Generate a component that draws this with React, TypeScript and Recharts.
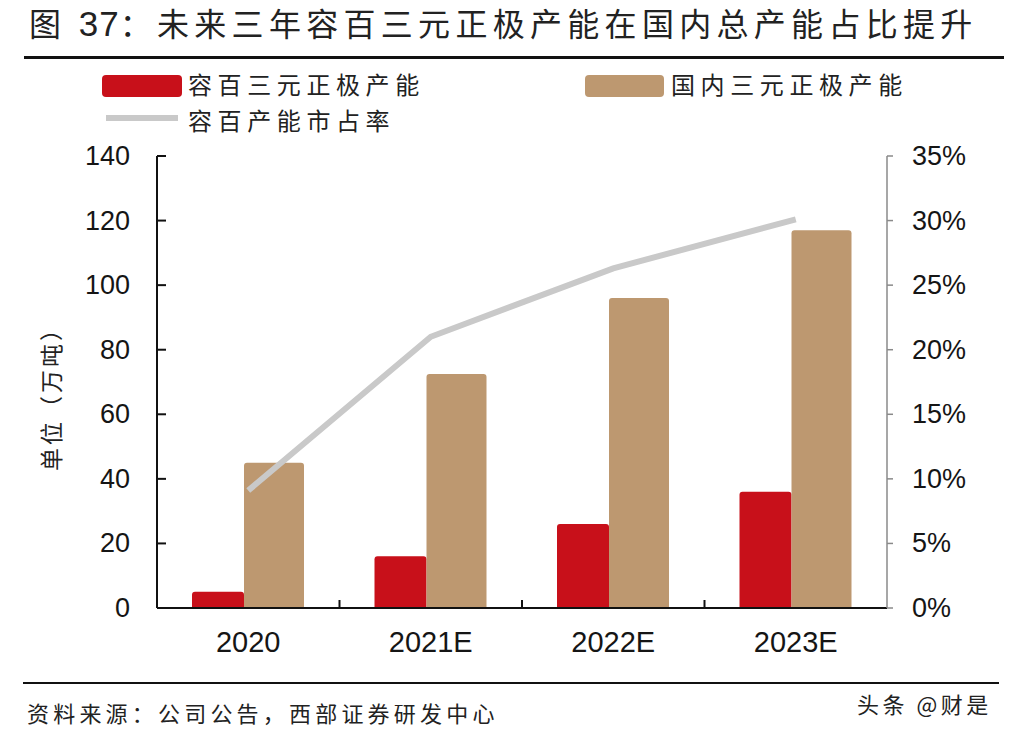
import React from "react";
import {
  ComposedChart,
  Bar,
  Line,
  XAxis,
  YAxis,
} from "recharts";

const categories = ["2020", "2021E", "2022E", "2023E"];
const rongbaiCapacity = [5, 16, 26, 36];
const domesticCapacity = [45, 72.5, 96, 117];
const marketShare = [0.091, 0.21, 0.263, 0.301];
const leftTicks = [0, 20, 40, 60, 80, 100, 120, 140];
const rightTicks = [0, 0.05, 0.1, 0.15, 0.2, 0.25, 0.3, 0.35];

const seriesNames = {
  rongbai: "容百三元正极产能",
  domestic: "国内三元正极产能",
  share: "容百产能市占率",
};

const data = categories.map((c, i) => ({
  category: c,
  rongbai: rongbaiCapacity[i],
  domestic: domesticCapacity[i],
  share: marketShare[i],
}));

const W = 1012;
const H = 738;
const PLOT_LEFT = 157;
const PLOT_RIGHT = 887;
const PLOT_TOP = 156;
const PLOT_BOTTOM = 608;
const LEFT_AXIS_W = 100;
const RIGHT_AXIS_W = 100;
const X_AXIS_H = 60;
const BAND = (PLOT_RIGHT - PLOT_LEFT) / categories.length;

const RED = "#C8101A";
const TAN = "#BD9870";
const GRAY = "#C9C9C9";
const CJK = '"Noto Sans CJK SC", "Noto Sans", sans-serif';
const LATIN = '"Liberation Sans", Arial, sans-serif';

const LeftTick = (props: any) => {
  const { y, payload } = props;
  return (
    <g>
      <line x1={PLOT_LEFT} x2={PLOT_LEFT + 9} y1={y} y2={y} stroke="#111" strokeWidth={2} />
      <text
        x={130}
        y={y}
        textAnchor="end"
        dominantBaseline="central"
        fontFamily={LATIN}
        fontSize={27}
        fill="#151515"
      >
        {payload.value}
      </text>
    </g>
  );
};

const RightTick = (props: any) => {
  const { y, payload } = props;
  return (
    <g>
      <line x1={PLOT_RIGHT} x2={PLOT_RIGHT + 6} y1={y} y2={y} stroke="#8a8a8a" strokeWidth={1.5} />
      <text
        x={912}
        y={y}
        textAnchor="start"
        dominantBaseline="central"
        fontFamily={LATIN}
        fontSize={27}
        fill="#151515"
      >
        {`${Math.round(payload.value * 100)}%`}
      </text>
    </g>
  );
};

const BottomTick = (props: any) => {
  const { x, payload, index } = props;
  const showBoundary = index < categories.length - 1;
  return (
    <g>
      {showBoundary && (
        <line
          x1={x + BAND / 2}
          x2={x + BAND / 2}
          y1={PLOT_BOTTOM}
          y2={PLOT_BOTTOM - 8}
          stroke="#111"
          strokeWidth={2}
        />
      )}
      <text
        x={x}
        y={642}
        textAnchor="middle"
        dominantBaseline="central"
        fontFamily={LATIN}
        fontSize={29}
        fill="#151515"
      >
        {payload.value}
      </text>
    </g>
  );
};

export default function App() {
  const legendText: React.CSSProperties = {
    position: "absolute",
    lineHeight: "26px",
    fontFamily: CJK,
    fontSize: 24,
    letterSpacing: 5.6,
    color: "#222",
    whiteSpace: "nowrap",
  };
  return (
    <div
      style={{
        position: "absolute",
        left: 0,
        top: 0,
        width: W,
        height: H,
        background: "#fff",
        overflow: "hidden",
      }}
    >
      {/* Title */}
      <div
        style={{
          position: "absolute",
          left: 29,
          top: 2,
          height: 40,
          lineHeight: "40px",
          fontFamily: CJK,
          fontSize: 32,
          color: "#222",
          whiteSpace: "nowrap",
          letterSpacing: 5.3,
        }}
      >
        图 <span style={{ fontFamily: LATIN, fontSize: 35, letterSpacing: 1 }}>37</span>：未来三年容百三元正极产能在国内总产能占比提升
      </div>
      <div
        style={{
          position: "absolute",
          left: 24,
          top: 56,
          width: 980,
          height: 3,
          background: "#111",
        }}
      />

      {/* Legend */}
      <div
        style={{
          position: "absolute",
          left: 102,
          top: 75,
          width: 80,
          height: 22,
          borderRadius: 4,
          background: RED,
        }}
      />
      <div style={{ ...legendText, left: 188, top: 71 }}>{seriesNames.rongbai}</div>
      <div
        style={{
          position: "absolute",
          left: 585,
          top: 75,
          width: 79,
          height: 22,
          borderRadius: 4,
          background: TAN,
        }}
      />
      <div style={{ ...legendText, left: 671, top: 71 }}>{seriesNames.domestic}</div>
      <div
        style={{
          position: "absolute",
          left: 106,
          top: 115,
          width: 72,
          height: 6,
          background: GRAY,
        }}
      />
      <div style={{ ...legendText, left: 188, top: 107 }}>{seriesNames.share}</div>

      {/* Y axis unit label */}
      <div
        style={{
          position: "absolute",
          left: 50,
          top: 393,
          transform: "translate(-50%, -50%) rotate(-90deg)",
          fontFamily: CJK,
          fontSize: 23,
          letterSpacing: 3,
          color: "#222",
          whiteSpace: "nowrap",
        }}
      >
        单位（万吨）
      </div>

      <div style={{ position: "absolute", left: 0, top: 0 }}>
        <ComposedChart
          width={W}
          height={H}
          data={data}
          margin={{
            top: PLOT_TOP,
            left: PLOT_LEFT - LEFT_AXIS_W,
            right: W - PLOT_RIGHT - RIGHT_AXIS_W,
            bottom: H - PLOT_BOTTOM - X_AXIS_H,
          }}
          barGap={0}
        >
          <XAxis
            dataKey="category"
            height={X_AXIS_H}
            axisLine={{ stroke: "#111", strokeWidth: 2 }}
            tickLine={false}
            tick={<BottomTick />}
            interval={0}
          />
          <YAxis
            yAxisId="left"
            orientation="left"
            width={LEFT_AXIS_W}
            domain={[0, 140]}
            ticks={leftTicks}
            axisLine={{ stroke: "#111", strokeWidth: 2 }}
            tickLine={false}
            tick={<LeftTick />}
            interval={0}
          />
          <YAxis
            yAxisId="right"
            orientation="right"
            width={RIGHT_AXIS_W}
            domain={[0, 0.35]}
            ticks={rightTicks}
            axisLine={{ stroke: "#8a8a8a", strokeWidth: 1.5 }}
            tickLine={false}
            tick={<RightTick />}
            interval={0}
          />
          <Bar
            yAxisId="left"
            dataKey="rongbai"
            name={seriesNames.rongbai}
            fill={RED}
            barSize={52}
            radius={[3, 3, 0, 0]}
            isAnimationActive={false}
          />
          <Bar
            yAxisId="left"
            dataKey="domestic"
            name={seriesNames.domestic}
            fill={TAN}
            barSize={60}
            radius={[3, 3, 0, 0]}
            isAnimationActive={false}
          />
          <Line
            yAxisId="right"
            dataKey="share"
            name={seriesNames.share}
            stroke={GRAY}
            strokeWidth={6}
            dot={false}
            activeDot={false}
            isAnimationActive={false}
          />
        </ComposedChart>
      </div>

      {/* Footer */}
      <div
        style={{
          position: "absolute",
          left: 23,
          top: 682,
          width: 976,
          height: 2,
          background: "#111",
        }}
      />
      <div
        style={{
          position: "absolute",
          left: 27,
          top: 698,
          lineHeight: "28px",
          fontFamily: CJK,
          fontSize: 22,
          letterSpacing: 4.2,
          color: "#222",
          whiteSpace: "nowrap",
        }}
      >
        资料来源：公司公告，西部证券研发中心
      </div>
      <div
        style={{
          position: "absolute",
          left: 857,
          top: 689,
          lineHeight: "28px",
          fontFamily: CJK,
          fontSize: 22,
          letterSpacing: 3.5,
          color: "#222",
          whiteSpace: "nowrap",
        }}
      >
        头条 @财是
      </div>
    </div>
  );
}
